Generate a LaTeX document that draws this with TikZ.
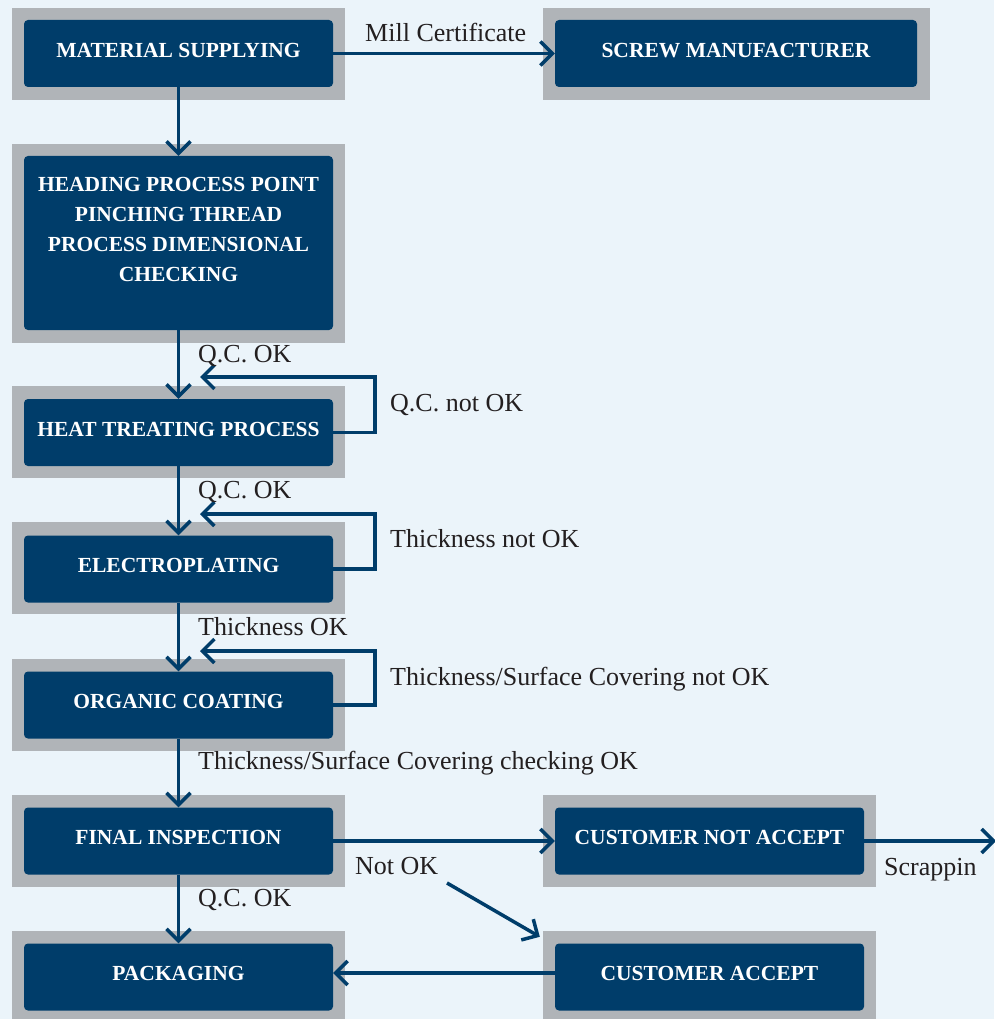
\documentclass[tikz,border=0pt]{standalone}
\usepackage{fontspec}
\setmainfont{Liberation Serif}
\usetikzlibrary{arrows.meta,calc}
\definecolor{pagebg}{RGB}{235,244,250}
\definecolor{framegray}{RGB}{176,180,184}
\definecolor{navy}{RGB}{0,61,106}
\definecolor{labelink}{RGB}{35,31,32}

\begin{document}
\begin{tikzpicture}[x=1pt,y=-1pt,
  grayframe/.style={fill=framegray, minimum width=333pt, minimum height=92pt, inner sep=0pt},
  stagebox/.style={fill=navy, text=white, rounded corners=4pt, minimum width=309pt,
    minimum height=67pt, inner sep=0pt, text depth=7pt, align=center,
    font=\bfseries\fontsize{21.5}{30}\selectfont},
  flowarrow/.style={draw=navy, line width=3.5pt, -{Straight Barb[length=12pt,width=24pt]}},
  flowlabel/.style={anchor=base west, inner sep=0pt, text=labelink,
    font=\fontsize{26}{30}\selectfont}]
  \useasboundingbox (0,0) rectangle (994,1019);
  \fill[pagebg] (0,0) rectangle (994,1019);

  % process boxes, gray frame behind each
  \node[grayframe] (msf) at (178.5,54) {};
  \node[stagebox] (ms) at (178.5,53.5) {MATERIAL SUPPLYING};
  \node[grayframe, minimum width=387pt] (smf) at (736.5,54) {};
  \node[stagebox, minimum width=362pt] (sm) at (736,53.5) {SCREW MANUFACTURER};
  \node[grayframe, minimum height=199pt] (hpf) at (178.5,243.5) {};
  \node[stagebox, minimum height=174pt, text height=104pt, text depth=28pt] (hp) at (178.5,243)
    {HEADING PROCESS POINT\\PINCHING THREAD\\PROCESS DIMENSIONAL\\CHECKING};
  \node[grayframe] (htf) at (178.5,432) {};
  \node[stagebox] (ht) at (178.5,432.5) {HEAT TREATING PROCESS};
  \node[grayframe] (epf) at (178.5,568) {};
  \node[stagebox] (ep) at (178.5,569) {ELECTROPLATING};
  \node[grayframe] (ocf) at (178.5,704.5) {};
  \node[stagebox] (oc) at (178.5,705) {ORGANIC COATING};
  \node[grayframe] (fif) at (178.5,840.5) {};
  \node[stagebox] (fi) at (178.5,841) {FINAL INSPECTION};
  \node[grayframe] (pkf) at (178.5,977) {};
  \node[stagebox] (pk) at (178.5,977) {PACKAGING};
  \node[grayframe] (cnaf) at (709.5,840.5) {};
  \node[stagebox] (cna) at (709.5,841) {CUSTOMER NOT ACCEPT};
  \node[grayframe] (caf) at (709.5,977) {};
  \node[stagebox] (ca) at (709.5,977) {CUSTOMER ACCEPT};

  % loose ends
  \coordinate (htback) at (200,377);
  \coordinate (epback) at (200,514);
  \coordinate (ocback) at (200,651);
  \coordinate (nokfrom) at (447,883);
  \coordinate (scrapend) at (996,841);

  % main flow
  \draw[flowarrow] (ms.east) -- (sm.west);
  \draw[flowarrow] (ms.south) -- (hp.north);
  \draw[flowarrow] (hp.south) -- (ht.north);
  \draw[flowarrow] (ht.south) -- (ep.north);
  \draw[flowarrow] (ep.south) -- (oc.north);
  \draw[flowarrow] (oc.south) -- (fi.north);
  \draw[flowarrow] (fi.south) -- (pk.north);
  \draw[flowarrow] (fi.east) -- (cna.west);
  \draw[flowarrow] (cna.east) -- (scrapend);
  \draw[flowarrow] (nokfrom) -- ($(caf.north west)+(-3,6)$);
  \draw[flowarrow] ([yshift=4pt]ca.west) -- ([yshift=4pt]pk.east);

  % rework loops
  \draw[flowarrow] (ht.east) -- ++(42,0) |- (htback);
  \draw[flowarrow] (ep.east) -- ++(42,0) |- (epback);
  \draw[flowarrow] (oc.east) -- ++(42,0) |- (ocback);

  % labels
  \node[flowlabel] (mclbl) at (365,41.5) {Mill Certificate};
  \node[flowlabel] (qc1lbl) at (198,362.5) {Q.C. OK};
  \node[flowlabel] (qcn1lbl) at (390,411.5) {Q.C. not OK};
  \node[flowlabel] (qc2lbl) at (198,498.5) {Q.C. OK};
  \node[flowlabel] (thnlbl) at (390,547.5) {Thickness not OK};
  \node[flowlabel] (thlbl) at (198,635.5) {Thickness OK};
  \node[flowlabel] (tsnlbl) at (390,685.5) {Thickness/Surface Covering not OK};
  \node[flowlabel] (tslbl) at (198,769.5) {Thickness/Surface Covering checking OK};
  \node[flowlabel] (noklbl) at (355,874.5) {Not OK};
  \node[flowlabel] (qc3lbl) at (198,906.5) {Q.C. OK};
  \node[flowlabel] (scraplbl) at (884,875.5) {Scrappin};
\end{tikzpicture}
\end{document}
